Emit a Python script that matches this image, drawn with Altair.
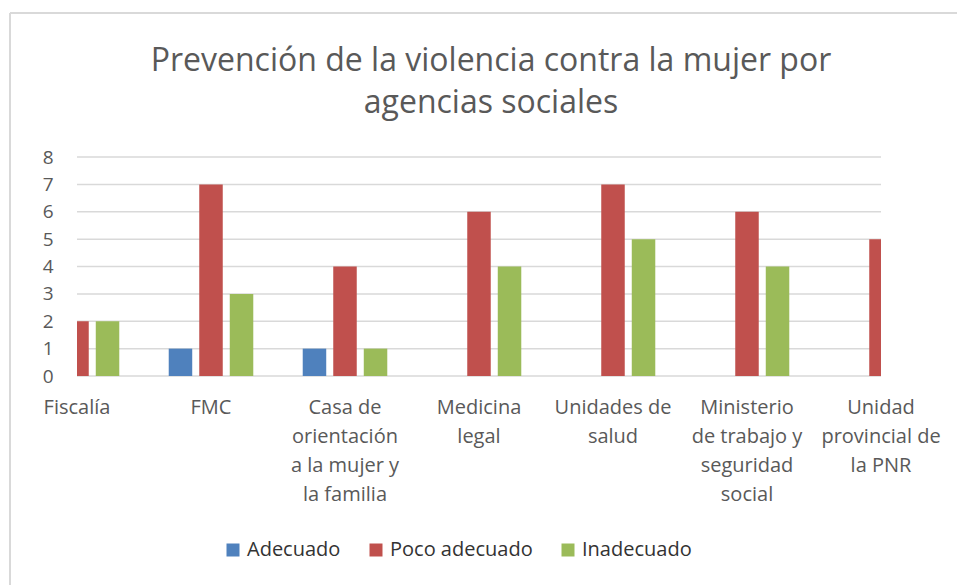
import altair as alt
import pandas as pd

categories = [
    "Fiscalía",
    "FMC",
    "Casa de|orientación|a la mujer y|la familia",
    "Medicina|legal",
    "Unidades de|salud",
    "Ministerio|de trabajo y|seguridad|social",
    "Unidad|provincial de|la PNR",
]
series = ["Adecuado", "Poco adecuado", "Inadecuado"]
adecuado = [0, 1, 1, 0, 0, 0, 0]
poco_adecuado = [2, 7, 4, 6, 7, 6, 5]
inadecuado = [2, 3, 1, 4, 5, 4, 0]
colors = ["#4F81BD", "#C0504D", "#9BBB59"]
y_ticks = [0, 1, 2, 3, 4, 5, 6, 7, 8]
title_lines = ["Prevención de la violencia contra la mujer por", "agencias sociales"]

rows = []
for s, vals in zip(series, [adecuado, poco_adecuado, inadecuado]):
    for c, v in zip(categories, vals):
        rows.append({"categoria": c, "serie": s, "valor": v})
df = pd.DataFrame(rows)
grid_df = pd.DataFrame({"valor": y_ticks})

FONT = "Open Sans"
GRAY = "#595959"

y_enc = alt.Y(
    "valor:Q",
    scale=alt.Scale(domain=[0, 8], nice=False),
    axis=alt.Axis(
        title=None,
        values=y_ticks,
        labelFont=FONT,
        labelFontSize=19,
        labelColor=GRAY,
        labelPadding=24,
        ticks=False,
        tickSize=0,
        domain=False,
        grid=False,
    ),
)

gridlines = alt.Chart(grid_df).mark_rule(color="#d9d9d9", strokeWidth=1.5).encode(
    y=y_enc, x=alt.value(0), x2=alt.value(804)
)

bars = (
    alt.Chart(df)
    .transform_filter("datum.valor > 0")
    .mark_bar(clip=True)
    .encode(
        x=alt.X(
            "categoria:N",
            sort=categories,
            scale=alt.Scale(range=[-67, 871], paddingInner=0, paddingOuter=0),
            axis=alt.Axis(
                title=None,
                labelAngle=0,
                labelExpr="split(datum.label, '|')",
                labelFont=FONT,
                labelFontSize=20,
                labelColor=GRAY,
                labelLineHeight=29,
                labelPadding=21,
                labelBaseline="top",
                labelOverlap=False,
                labelBound=False,
                ticks=False,
                tickSize=0,
                domain=False,
                grid=False,
            ),
        ),
        xOffset=alt.XOffset(
            "serie:N",
            sort=series,
            scale=alt.Scale(domain=series, paddingInner=0.23, paddingOuter=0.81),
        ),
        y=y_enc,
        color=alt.Color(
            "serie:N",
            sort=series,
            scale=alt.Scale(domain=series, range=colors),
            legend=alt.Legend(
                title=None,
                orient="none",
                legendX=146,
                legendY=383,
                direction="horizontal",
                symbolType="square",
                symbolSize=169,
                symbolStrokeWidth=0,
                labelFont=FONT,
                labelFontSize=20,
                labelColor="#333333",
                labelOffset=4,
                columnPadding=25,
            ),
        ),
    )
)

frame = pd.DataFrame({"k": [0]})
border_top = alt.Chart(frame).mark_rule(color="#d9d9d9", strokeWidth=2).encode(
    x=alt.value(-67), x2=alt.value(880), y=alt.value(-144)
)
border_left = alt.Chart(frame).mark_rule(color="#d9d9d9", strokeWidth=2).encode(
    x=alt.value(-67), y=alt.value(-144), y2=alt.value(428)
)
title1 = alt.Chart(frame).mark_text(
    font=FONT, fontSize=32, color=GRAY, align="center", baseline="alphabetic"
).encode(x=alt.value(414), y=alt.value(-86), text=alt.value(title_lines[0]))
title2 = alt.Chart(frame).mark_text(
    font=FONT, fontSize=32, color=GRAY, align="center", baseline="alphabetic"
).encode(x=alt.value(414), y=alt.value(-44), text=alt.value(title_lines[1]))

chart = (
    alt.layer(border_top, border_left, title1, title2, gridlines, bars)
    .properties(
        width=804,
        height=219,
        padding={"left": 77, "top": 157, "right": 76, "bottom": 209},
        autosize=alt.AutoSizeParams(type="none"),
        background="white",
    )
    .configure_view(stroke=None, strokeWidth=0)
)

chart.save("out.html", embed_options={"renderer": "svg", "actions": False})
